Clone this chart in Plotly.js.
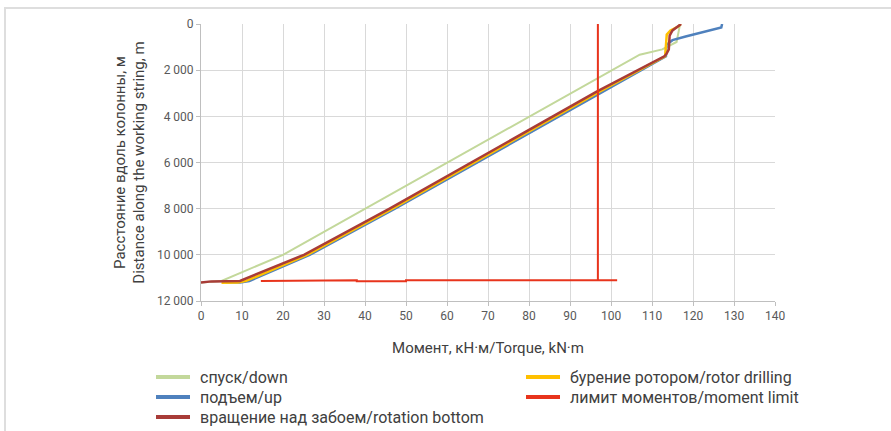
<!DOCTYPE html>
<html>
<head>
<meta charset="utf-8">
<script src="https://cdn.plot.ly/plotly-3.0.1.min.js"></script>
<style>
  html, body { margin: 0; padding: 0; background: #ffffff; }
  #wrap { position: relative; width: 891px; height: 431px; }
  #chart { width: 891px; height: 431px; }
  #frame { position: absolute; left: 4px; top: 7px; width: 900px; height: 440px;
           border-top: 2px solid #dedede; border-left: 2px solid #dedede; pointer-events: none; }
</style>
</head>
<body>
<div id="wrap">
  <div id="chart"></div>
  <div id="frame"></div>
</div>
<script>
// ---- Data ----
const downX = [0, 2.5, 5, 20, 40, 60, 107, 112.5, 116.0, 116.8, 116.9];
const downY = [11200, 11150, 11130, 10000, 8000, 6000, 1330, 1100, 780, 50, 0];

const upX = [6, 9.5, 11.8, 26.5, 47.3, 97.8, 113.4, 113.5, 115, 118.2, 123, 126.9, 127.1];
const upY = [11200, 11200, 11130, 10000, 8000, 2930, 1400, 900, 700, 540, 320, 150, 0];

const rotX = [0, 2.5, 9.5, 25.1, 46, 96.5, 113.0, 113.5, 114.1, 114.3, 115, 116.5, 117.1];
const rotY = [11200, 11150, 11130, 10000, 8000, 2930, 1400, 1300, 1100, 500, 280, 100, 0];

const drillX = [5, 9, 11, 25.9, 46.7, 97.2, 113.2, 113.6, 114.5, 116.5, 117.0];
const drillY = [11210, 11200, 11130, 10000, 8000, 2930, 1400, 460, 280, 100, 0];

const limitX = [96.8, 96.8, 101.5, 50, 50, 38, 38, 44.5, 44.5, 38, 38, 26, 26, 14.6];
const limitY = [0, 11100, 11100, 11100, 11140, 11140, 11160, 11160, 11130, 11130, 11100, 11100, 11130, 11130];

const names = [
  'спуск/down',
  'подъем/up',
  'вращение над забоем/rotation bottom',
  'бурение ротором/rotor drilling',
  'лимит моментов/moment limit'
];
const xTicks = [0, 10, 20, 30, 40, 50, 60, 70, 80, 90, 100, 110, 120, 130, 140];
const yTicks = [0, 2000, 4000, 6000, 8000, 10000, 12000];

const colors = ['#c3d89b', '#4f81bd', '#a83c38', '#ffc000', '#e8341c'];

const seriesX = [downX, upX, rotX, drillX, limitX];
const seriesY = [downY, upY, rotY, drillY, limitY];
const widths = [2, 2.5, 2.5, 2.5, 2];
const drawOrder = [0, 1, 3, 2, 4];

const traces = drawOrder.map(i => ({
  x: seriesX[i], y: seriesY[i], name: names[i], mode: 'lines',
  showlegend: false, line: {color: colors[i], width: widths[i]}
}));

// ---- Legend placement (pixels in the 891x431 figure) ----
const M = {l: 201, r: 116, t: 24, b: 130};
const PW = 891 - M.l - M.r, PH = 431 - M.t - M.b;
const px2x = px => (px - M.l) / PW;
const py2y = py => (431 - M.b - py) / PH;
// legend slots: [series index, column left px, row centre px]
const legendSlots = [
  [0, 156, 377], [1, 156, 397], [2, 156, 417],
  [3, 526, 377], [4, 526, 397]
];

const txtFont = {family: 'Roboto, "Open Sans", sans-serif', size: 15, color: '#404040'};
const legFont = {family: 'Roboto, "Open Sans", sans-serif', size: 16, color: '#404040'};
const tickFont = {family: 'Roboto, "Open Sans", sans-serif', size: 12, color: '#595959'};

const shapes = legendSlots.map(([i, lx, ly]) => ({
  type: 'line', xref: 'paper', yref: 'paper',
  x0: px2x(lx), x1: px2x(lx + 34), y0: py2y(ly), y1: py2y(ly),
  line: {color: colors[i], width: 4}
}));
const annotations = legendSlots.map(([i, lx, ly]) => ({
  xref: 'paper', yref: 'paper', x: px2x(lx + 42), y: py2y(ly),
  xanchor: 'left', yanchor: 'middle', showarrow: false,
  text: names[i], font: legFont
}));

const layout = {
  width: 891, height: 431,
  margin: M,
  paper_bgcolor: 'rgba(0,0,0,0)',
  plot_bgcolor: '#ffffff',
  separators: ', ',
  showlegend: false,
  font: txtFont,
  shapes: shapes,
  annotations: annotations,
  xaxis: {
    range: [0, 140], tickvals: xTicks, ticktext: xTicks.map(String),
    showgrid: true, gridcolor: '#d9d9d9', gridwidth: 1,
    zeroline: false, showline: true, linecolor: '#bfbfbf',
    ticks: 'outside', ticklen: 4, tickcolor: '#bfbfbf',
    tickfont: tickFont,
    title: {text: 'Момент, кН·м/Torque, kN·m', font: txtFont, standoff: 20},
    fixedrange: true
  },
  yaxis: {
    range: [12000, 0], tickvals: yTicks, separatethousands: true, tickformat: ',d',
    showgrid: true, gridcolor: '#d9d9d9', gridwidth: 1,
    zeroline: false, showline: true, linecolor: '#bfbfbf',
    ticks: 'outside', ticklen: 4, tickcolor: '#bfbfbf',
    tickfont: tickFont,
    title: {text: 'Расстояние вдоль колонны, м<br>Distance along the working string, m',
            font: txtFont, standoff: 8},
    fixedrange: true
  }
};

Plotly.newPlot('chart', traces, layout, {displayModeBar: false, staticPlot: true});
</script>
</body>
</html>
